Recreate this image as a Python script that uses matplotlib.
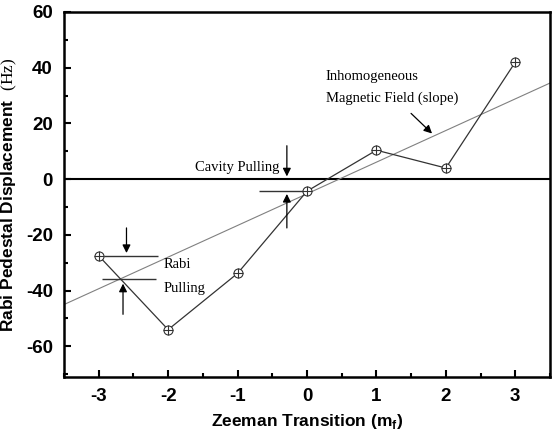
import matplotlib
matplotlib.use("Agg")
import matplotlib.pyplot as plt
from matplotlib.ticker import MultipleLocator

# data
mf = [-3, -2, -1, 0, 1, 2, 3]
displacement = [-27.5, -54, -33.8, -4.3, 10.4, 4.0, 42]
slope_x = [-3.5, 3.5]
slope_y = [-45, 34.5]

plt.rcParams['font.family'] = ['Liberation Sans', 'DejaVu Sans']
plt.rcParams['axes.unicode_minus'] = False
plt.rcParams['mathtext.fontset'] = 'custom'
plt.rcParams['mathtext.rm'] = 'Liberation Serif'
plt.rcParams['mathtext.bf'] = 'Liberation Sans:bold'

fig = plt.figure(figsize=(5.55, 4.36), dpi=100)
ax = fig.add_axes([64/555, 1 - 377/436, 486/555, 365/436])

ax.axhline(0, color='black', lw=1.5, zorder=1)
ax.plot(slope_x, slope_y, color='#808080', lw=0.8, zorder=2)
ax.plot(mf, displacement, color='#333333', lw=0.9, zorder=3)
ax.plot(mf, displacement, 'o', ms=6.5, mfc='white', mec='#333333', mew=0.8, zorder=4)
ax.plot(mf, displacement, '+', ms=6.5, color='#333333', mew=0.8, zorder=5)

serif = 'Liberation Serif'
# Rabi pulling
ax.hlines([-27.5, -36.0], [-2.92, -2.95], [-2.15, -2.17], color='#333333', lw=1)
ax.annotate('', xy=(-2.6, -27.5), xytext=(-2.6, -16.5),
            arrowprops=dict(arrowstyle='-|>', color='black', lw=0.9, mutation_scale=12))
ax.annotate('', xy=(-2.65, -36.5), xytext=(-2.65, -49.5),
            arrowprops=dict(arrowstyle='-|>', color='black', lw=0.9, mutation_scale=12))
ax.text(-2.06, -30.8, 'Rabi', family=serif, fontsize=10.5, va='center')
ax.text(-2.06, -39.2, 'Pulling', family=serif, fontsize=10.5, va='center')

# cavity pulling
ax.hlines(-4.3, -0.69, 0.0, color='#333333', lw=1)
ax.annotate('', xy=(-0.29, 0), xytext=(-0.29, 13),
            arrowprops=dict(arrowstyle='-|>', color='black', lw=0.9, mutation_scale=12))
ax.annotate('', xy=(-0.29, -4.3), xytext=(-0.29, -18.5),
            arrowprops=dict(arrowstyle='-|>', color='black', lw=0.9, mutation_scale=12))
ax.text(-1.62, 4.3, 'Cavity Pulling', family=serif, fontsize=10.5, va='center')

# slope label
ax.text(0.27, 37, 'Inhomogeneous', family=serif, fontsize=10.5, va='center')
ax.text(0.27, 29, 'Magnetic Field (slope)', family=serif, fontsize=10.5, va='center')
ax.annotate('', xy=(1.83, 15.7), xytext=(1.47, 24.3),
            arrowprops=dict(arrowstyle='-|>', color='black', lw=0.9, mutation_scale=12))

ax.set_xlim(-3.5, 3.5)
ax.set_ylim(-71, 60)
ax.xaxis.set_major_locator(MultipleLocator(1))
ax.xaxis.set_minor_locator(MultipleLocator(0.5))
ax.yaxis.set_major_locator(MultipleLocator(20))
ax.yaxis.set_minor_locator(MultipleLocator(10))
ax.tick_params(which='both', direction='in', width=1.5, top=False, right=False)
ax.tick_params(which='major', length=5, labelsize=13.5, pad=8)
ax.tick_params(which='minor', length=3)
for lab in ax.get_xticklabels() + ax.get_yticklabels():
    lab.set_fontweight('bold')
for s in ax.spines.values():
    s.set_linewidth(1.8)

ax.set_xlabel(r'Zeeman Transition (m$_\mathbf{f}$)', fontsize=12.5, fontweight='bold', labelpad=5)
ax.set_ylabel(r'Rabi Pedestal Displacement  $\mathrm{(Hz)}$', fontsize=12.5, fontweight='bold', labelpad=5)

fig.savefig('out.png', dpi=100)
